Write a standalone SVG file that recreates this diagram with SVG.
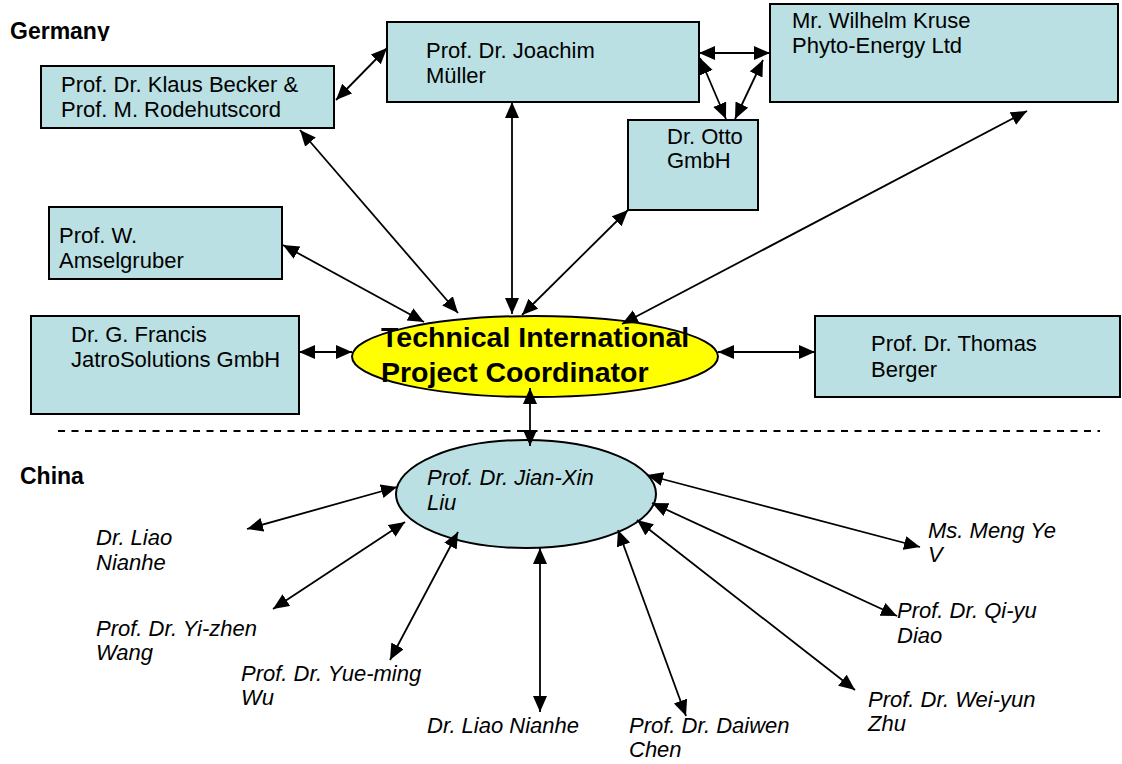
<svg xmlns="http://www.w3.org/2000/svg" width="1122" height="764" viewBox="0 0 1122 764">
<style>
.box{fill:#bae0e3;stroke:#000;stroke-width:2}
.t{font-family:"Liberation Sans",Arial,sans-serif;font-size:22px;fill:#000}
.i{font-family:"Liberation Sans",Arial,sans-serif;font-size:22px;font-style:italic;fill:#000}
.h{font-family:"Liberation Sans",Arial,sans-serif;font-size:23px;font-weight:bold;fill:#000}
.c{font-family:"Liberation Sans",Arial,sans-serif;font-size:28.5px;font-weight:bold;fill:#000}
.cn line{stroke:#000;stroke-width:1.8;marker-start:url(#a);marker-end:url(#a)}
</style>
<defs>
<marker id="a" markerUnits="userSpaceOnUse" markerWidth="18" markerHeight="15" refX="16" refY="7" orient="auto-start-reverse"><path d="M0,0 L16,7 L0,14 z" fill="#000"/></marker>
<clipPath id="gc"><rect x="0" y="0" width="200" height="41"/></clipPath>
</defs>
<rect width="1122" height="764" fill="#fff"/>
<text class="h" x="10" y="39" clip-path="url(#gc)">Germany</text>
<text class="h" x="20" y="484">China</text>
<line x1="58" y1="431" x2="1100" y2="431" stroke="#000" stroke-width="2" stroke-dasharray="7,6.5"/>
<g id="becker"><rect class="box" x="41" y="66" width="293" height="62"/><text class="t" x="61" y="92">Prof. Dr. Klaus Becker &amp;</text><text class="t" x="61" y="117">Prof. M. Rodehutscord</text></g>
<g id="mueller"><rect class="box" x="387" y="22" width="312" height="80"/><text class="t" x="426" y="58">Prof. Dr. Joachim</text><text class="t" x="426" y="83">Müller</text></g>
<g id="otto"><rect class="box" x="628" y="120" width="130" height="90"/><text class="t" x="667" y="144">Dr. Otto</text><text class="t" x="667" y="168">GmbH</text></g>
<g id="kruse"><rect class="box" x="770" y="4" width="348" height="98"/><text class="t" x="792" y="28">Mr. Wilhelm Kruse</text><text class="t" x="792" y="53">Phyto-Energy Ltd</text></g>
<g id="amselgruber"><rect class="box" x="49" y="207" width="233" height="72"/><text class="t" x="59" y="243">Prof. W.</text><text class="t" x="59" y="268">Amselgruber</text></g>
<g id="francis"><rect class="box" x="31" y="316" width="268" height="98"/><text class="t" x="71" y="342">Dr. G. Francis</text><text class="t" x="71" y="367">JatroSolutions GmbH</text></g>
<g id="berger"><rect class="box" x="815" y="316" width="305" height="81"/><text class="t" x="871" y="351">Prof. Dr. Thomas</text><text class="t" x="871" y="377">Berger</text></g>
<g id="liu"><ellipse cx="526" cy="494" rx="130" ry="54" fill="#bae0e3" stroke="#000" stroke-width="2"/><text class="i" x="427" y="485">Prof. Dr. Jian-Xin</text><text class="i" x="427" y="510">Liu</text></g>
<g id="liao1"><text class="i" x="96" y="545">Dr. Liao</text><text class="i" x="96" y="570">Nianhe</text></g>
<g id="wang"><text class="i" x="96" y="636">Prof. Dr. Yi-zhen</text><text class="i" x="96" y="660">Wang</text></g>
<g id="wu"><text class="i" x="241" y="681">Prof. Dr. Yue-ming</text><text class="i" x="241" y="705">Wu</text></g>
<g id="liao2"><text class="i" x="427" y="733">Dr. Liao Nianhe</text></g>
<g id="chen"><text class="i" x="629" y="733">Prof. Dr. Daiwen</text><text class="i" x="629" y="757">Chen</text></g>
<g id="zhu"><text class="i" x="868" y="707">Prof. Dr. Wei-yun</text><text class="i" x="868" y="731">Zhu</text></g>
<g id="diao"><text class="i" x="897" y="618">Prof. Dr. Qi-yu</text><text class="i" x="897" y="643">Diao</text></g>
<g id="meng"><text class="i" x="928" y="538">Ms. Meng Ye</text><text class="i" x="928" y="562">V</text></g>
<g id="coordinator"><ellipse cx="535" cy="356.5" rx="183" ry="40.5" fill="#ffff00" stroke="#000" stroke-width="2"/></g>
<g class="cn" id="connectors">
<line x1="336" y1="100" x2="387" y2="48"/>
<line x1="300" y1="130" x2="458" y2="313"/>
<line x1="512" y1="102" x2="512" y2="314"/>
<line x1="628" y1="210" x2="522" y2="315"/>
<line x1="1027" y1="111" x2="622" y2="324"/>
<line x1="283" y1="245" x2="424" y2="322"/>
<line x1="299" y1="352" x2="352" y2="352"/>
<line x1="718" y1="352" x2="815" y2="352"/>
<line x1="699" y1="53" x2="770" y2="53"/>
<line x1="700" y1="58" x2="726" y2="119"/>
<line x1="763" y1="60" x2="735" y2="119"/>
<line x1="530" y1="388" x2="530" y2="446"/>
<line x1="397" y1="487" x2="247" y2="529"/>
<line x1="405" y1="522" x2="273" y2="609"/>
<line x1="458" y1="532" x2="390" y2="660"/>
<line x1="540" y1="548" x2="540" y2="712"/>
<line x1="618" y1="530" x2="686" y2="716"/>
<line x1="637" y1="520" x2="855" y2="690"/>
<line x1="652" y1="503" x2="897" y2="616"/>
<line x1="647" y1="475" x2="920" y2="547"/>
</g>
<g id="coordinator-label"><text class="c" x="381" y="347">Technical International</text><text class="c" x="381" y="382">Project Coordinator</text></g>
</svg>
